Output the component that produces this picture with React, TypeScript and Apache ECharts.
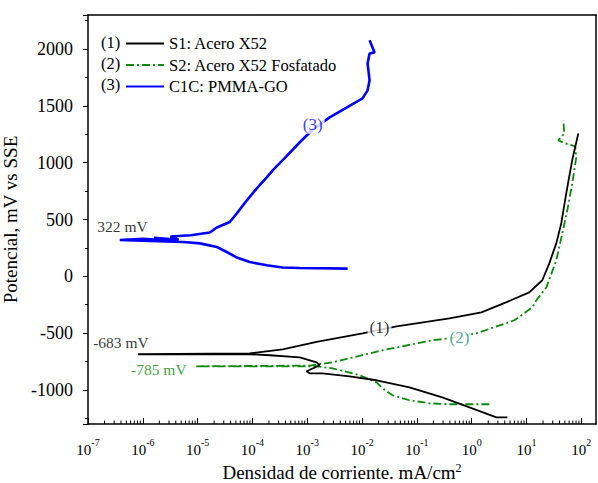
import React, { useEffect, useRef } from 'react';
import * as echarts from 'echarts';

const FONT = 'Liberation Serif';

const SERIES_NAMES = ['S1: Acero X52', 'S2: Acero X52 Fosfatado', 'C1C: PMMA-GO'];
const LEGEND_TAGS = ['(1)', '(2)', '(3)'];
const COLORS = ['#000000', '#0b8a0b', '#0000ff'];

// S1: Acero X52 (current density mA/cm2, potential mV)
const S1_CURRENT = [4.47, 2.82, 0.91, 0.29, 0.0733, 0.0184, 5.9e-3, 1.9e-3, 1.1e-3, 9.7e-4, 1.68e-3, 1.48e-3, 7.3e-4, 2.07e-4, 8.9e-5, 8.2e-7, 8.9e-5, 3.56e-4, 1.48e-3, 1.02e-2, 0.0425, 0.393, 1.5, 5.2, 11.2, 19.4, 26, 34.9, 43, 53, 68, 88];
const S1_POTENTIAL = [-1241, -1241, -1153, -1065, -977, -915, -880, -854, -854, -836, -783, -757, -713, -695, -686, -686, -678, -643, -578, -502, -440, -370, -318, -211, -141, -35, 114, 290, 466, 730, 1021, 1258];

// S2: Acero X52 Fosfatado
const S2_CURRENT = [2.1, 0.393, 0.17, 0.0733, 0.036, 0.0236, 0.0184, 9.0e-3, 2.9e-3, 1.48e-3, 8.9e-5, 8.9e-6, 8.9e-5, 1.1e-3, 2.9e-3, 0.0236, 0.192, 0.393, 1.22, 6.0, 12.8, 15.1, 23.0, 34.9, 44.9, 55.4, 68.2, 80.7, 77.4, 50.9, 37.9, 48.9, 46.8];
const S2_POTENTIAL = [-1126, -1126, -1118, -1091, -1047, -986, -933, -871, -810, -792, -792, -792, -789, -786, -757, -651, -563, -546, -502, -387, -273, -211, -97, 141, 378, 581, 818, 1047, 1144, 1170, 1197, 1258, 1373];

// C1C: PMMA-GO
const C1C_CURRENT = [5.45e-3, 7.3e-4, 3.56e-4, 1.82e-4, 8.9e-5, 5.2e-5, 3.4e-5, 2.24e-5, 1.1e-5, 5.4e-6, 1.35e-6, 3.8e-7, 1.0e-6, 2.6e-6, 1.6e-6, 4.5e-6, 3.2e-6, 7.5e-6, 1.67e-5, 2.24e-5, 3.86e-5, 5.2e-5, 7.9e-5, 1.2e-4, 1.82e-4, 2.34e-4, 3.87e-4, 7.3e-4, 1.25e-3, 2.56e-3, 1.02e-2, 1.26e-2, 1.37e-2, 1.26e-2, 1.37e-2, 1.69e-2, 1.37e-2];
const C1C_POTENTIAL = [68, 73, 77, 97, 126, 165, 214, 258, 290, 302, 312, 320, 330, 318, 338, 322, 350, 362, 385, 430, 478, 554, 669, 774, 871, 933, 1040, 1180, 1290, 1399, 1566, 1637, 1725, 1874, 1962, 1971, 2077];

// Annotations on the chart
const ANNOT_TEXT = ['322 mV', '-683 mV', '-785 mV', '(1)', '(2)', '(3)'];
const ANNOT_CURRENT = [4.25e-7, 3.99e-7, 1.96e-6, 0.0208, 0.597, 1.26e-3];
const ANNOT_POTENTIAL = [440, -581, -818, -449, -537, 1338];
const ANNOT_COLOR = ['#000000', '#000000', '#0b8a0b', '#000000', '#2f8f84', '#0000ff'];
const ANNOT_SIZE = [15.5, 15.5, 15.5, 17, 17, 17];
const ANNOT_BG = [false, false, false, true, true, true];

// axis settings
const X_MIN = 1e-7;
const X_MAX = 185;
const Y_MIN = -1300;
const Y_MAX = 2300;
const DECADES = [-7, -6, -5, -4, -3, -2, -1, 0, 1];
const MINOR_MULT = [2, 3, 4, 5, 6, 7, 8, 9];

function pairs(xs: number[], ys: number[]) {
  return xs.map((x, i) => [x, ys[i]]);
}

export default function App() {
  const ref = useRef<HTMLDivElement>(null);

  useEffect(() => {
    document.body.style.margin = '0';
    if (!ref.current) return;
    const chart = echarts.init(ref.current, undefined, { renderer: 'svg' });

    const minorTicks: number[][] = [];
    DECADES.forEach((d) => MINOR_MULT.forEach((m) => minorTicks.push([m * Math.pow(10, d), Y_MIN])));

    const lineStyles: any[] = [
      { color: COLORS[0], width: 1.8, type: 'solid' },
      { color: COLORS[1], width: 1.8, type: [8, 3, 2, 3] },
      { color: COLORS[2], width: 2.6, type: 'solid' },
    ];
    const datas = [
      pairs(S1_CURRENT, S1_POTENTIAL),
      pairs(S2_CURRENT, S2_POTENTIAL),
      pairs(C1C_CURRENT, C1C_POTENTIAL),
    ];

    const frameAxisLine = { show: true, onZero: false, lineStyle: { color: '#000', width: 1.5 } };

    const option: any = {
      animation: false,
      backgroundColor: '#ffffff',
      grid: {
        left: 88,
        right: 2,
        top: 15,
        bottom: 59,
        containLabel: false,
        outerBoundsMode: 'none',
      },
      legend: {
        data: SERIES_NAMES,
        orient: 'vertical',
        left: 125,
        top: 35,
        padding: 0,
        itemWidth: 38,
        itemHeight: 14,
        itemGap: 4.5,
        itemStyle: { opacity: 0 },
        textStyle: { fontFamily: FONT, fontSize: 16.5, color: '#000' },
        selectedMode: false,
      },
      xAxis: [
        {
          type: 'log',
          logBase: 10,
          min: X_MIN,
          max: X_MAX,
          name: '{a|Densidad de corriente. mA/cm}{s|2}',
          nameLocation: 'middle',
          nameGap: 36,
          nameTextStyle: {
            rich: {
              a: { fontFamily: FONT, fontSize: 19, color: '#000', lineHeight: 20, verticalAlign: 'bottom' },
              s: { fontFamily: FONT, fontSize: 12, color: '#000', lineHeight: 20, verticalAlign: 'top' },
            },
          },
          axisLine: frameAxisLine,
          axisTick: { show: true, inside: true, length: 6, lineStyle: { color: '#000', width: 1 } },
          splitLine: { show: false },
          axisLabel: {
            margin: 13,
            showMaxLabel: false,
            formatter: (v: number) => {
              const l = Math.log10(v);
              const e = Math.round(l);
              if (Math.abs(l - e) > 1e-6) return '';
              return `{b|10}{s|${e}}`;
            },
            rich: {
              b: { fontFamily: FONT, fontSize: 15, color: '#000', lineHeight: 20, verticalAlign: 'bottom' },
              s: { fontFamily: FONT, fontSize: 10, color: '#000', lineHeight: 20, verticalAlign: 'top' },
            },
          },
        },
        {
          type: 'log',
          logBase: 10,
          min: X_MIN,
          max: X_MAX,
          position: 'top',
          axisLine: frameAxisLine,
          axisTick: { show: false },
          axisLabel: { show: false },
          splitLine: { show: false },
        },
      ],
      yAxis: [
        {
          type: 'value',
          min: Y_MIN,
          max: Y_MAX,
          splitNumber: 7,
          name: 'Potencial, mV vs SSE',
          nameLocation: 'middle',
          nameGap: 50,
          nameTextStyle: { fontFamily: FONT, fontSize: 19, color: '#000' },
          axisLine: frameAxisLine,
          axisTick: { show: true, inside: false, length: 5, lineStyle: { color: '#000', width: 1 } },
          minorTick: { show: true, splitNumber: 2, length: 3, lineStyle: { color: '#000', width: 1 } },
          splitLine: { show: false },
          axisLabel: {
            margin: 15,
            showMinLabel: false,
            showMaxLabel: false,
            fontFamily: FONT,
            fontSize: 18,
            color: '#000',
            formatter: (v: number) => String(v),
          },
        },
        {
          type: 'value',
          min: Y_MIN,
          max: Y_MAX,
          position: 'right',
          axisLine: frameAxisLine,
          axisTick: { show: false },
          axisLabel: { show: false },
          splitLine: { show: false },
        },
      ],
      series: [
        ...SERIES_NAMES.map((name, i) => ({
          name,
          type: 'line',
          data: datas[i],
          symbol: 'none',
          showSymbol: false,
          smooth: false,
          lineStyle: lineStyles[i],
          itemStyle: { color: COLORS[i] },
          z: i === 0 ? 3 : 2,
          silent: true,
        })),
        {
          name: 'minorTicks',
          type: 'custom',
          silent: true,
          clip: false,
          z: 6,
          data: minorTicks,
          renderItem: (_p: any, api: any) => {
            const p = api.coord([api.value(0), api.value(1)]);
            return {
              type: 'line',
              shape: { x1: p[0], y1: p[1], x2: p[0], y2: p[1] - 3.5 },
              style: { stroke: '#000', lineWidth: 1 },
            };
          },
        },
        {
          name: 'annotations',
          type: 'scatter',
          silent: true,
          symbolSize: 0,
          z: 10,
          data: ANNOT_TEXT.map((t, i) => ({
            value: [ANNOT_CURRENT[i], ANNOT_POTENTIAL[i]],
            label: {
              show: true,
              position: 'inside',
              formatter: t,
              color: ANNOT_COLOR[i],
              fontFamily: FONT,
              fontSize: ANNOT_SIZE[i],
              backgroundColor: ANNOT_BG[i] ? '#ffffff' : 'transparent',
              padding: ANNOT_BG[i] ? [1, 2] : 0,
            },
          })),
        },
      ],
      graphic: LEGEND_TAGS.map((t, i) => ({
        type: 'text',
        left: 101,
        top: 34 + i * 21,
        style: { text: t, fontFamily: FONT, fontSize: 16.5, fill: '#000' },
      })),
    };

    chart.setOption(option);
    return () => chart.dispose();
  }, []);

  return <div ref={ref} style={{ width: 598, height: 483 }} />;
}
